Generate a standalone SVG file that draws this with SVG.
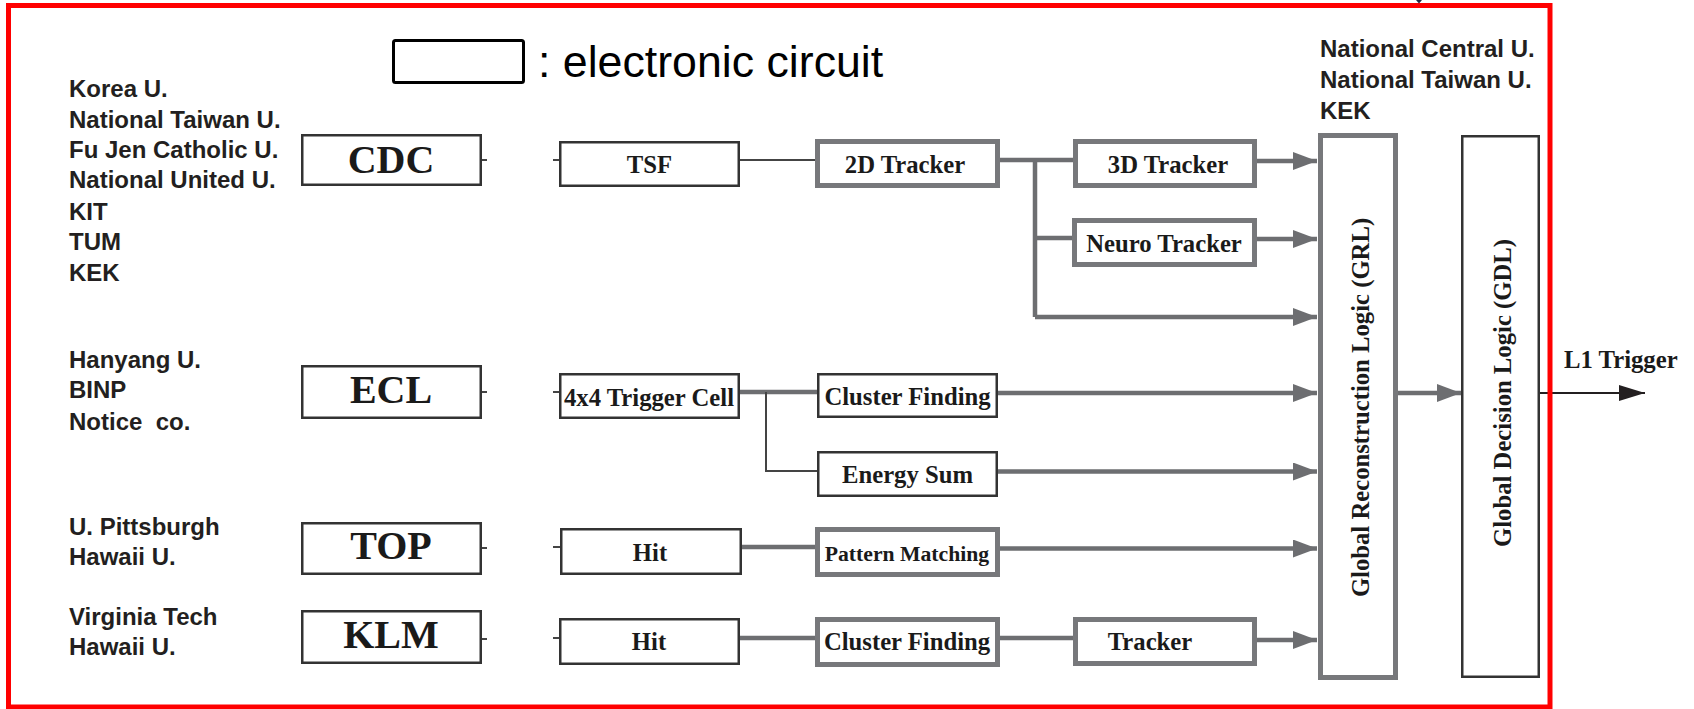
<svg xmlns="http://www.w3.org/2000/svg" width="1694" height="709" viewBox="0 0 1694 709">
<defs>
<style>
.org{font-family:"Liberation Sans",Arial,sans-serif;font-weight:bold;font-size:24px;fill:#231f20}
.big{font-family:"Liberation Serif","Times New Roman",serif;font-weight:bold;font-size:40px;fill:#1a1a1a;text-anchor:middle}
.lbl{font-family:"Liberation Serif","Times New Roman",serif;font-weight:bold;font-size:24.7px;fill:#1a1a1a;text-anchor:middle}
.thin{fill:#fff;stroke:#333;stroke-width:2.5}
.thick{fill:#fff;stroke:#77787b;stroke-width:5}
.wd{fill:none;stroke:#444;stroke-width:2}
.wg{fill:none;stroke:#6d6e71;stroke-width:4.5}
.wga{fill:none;stroke:#6d6e71;stroke-width:4.5;marker-end:url(#ag)}
</style>
<marker id="ag" markerUnits="userSpaceOnUse" markerWidth="24" markerHeight="18" refX="24" refY="9" orient="auto">
<path d="M0,0 L24,9 L0,18 z" fill="#6d6e71"/>
</marker>
<marker id="ab" markerUnits="userSpaceOnUse" markerWidth="26" markerHeight="18" refX="26" refY="9" orient="auto">
<path d="M0,1 L26,9 L0,17 z" fill="#231f20"/>
</marker>
</defs>
<rect width="1694" height="709" fill="#fff"/>

<g id="legend">
<rect x="393.5" y="40.5" width="130" height="42" rx="2" fill="#fff" stroke="#000" stroke-width="3"/>
<text x="538" y="77" font-family="'Liberation Sans',Arial,sans-serif" font-size="44.7" fill="#000">: electronic circuit</text>
</g>

<g id="orgs-cdc">
<text x="69" y="97" class="org">Korea U.</text>
<text x="69" y="128" class="org">National Taiwan U.</text>
<text x="69" y="158" class="org">Fu Jen Catholic U.</text>
<text x="69" y="188" class="org">National United U.</text>
<text x="69" y="220" class="org">KIT</text>
<text x="69" y="250" class="org">TUM</text>
<text x="69" y="281" class="org">KEK</text>
</g>
<g id="orgs-ecl">
<text x="69" y="368" class="org">Hanyang U.</text>
<text x="69" y="398" class="org">BINP</text>
<text x="69" y="430" class="org">Notice&#160; co.</text>
</g>
<g id="orgs-top">
<text x="69" y="535" class="org">U. Pittsburgh</text>
<text x="69" y="565" class="org">Hawaii U.</text>
</g>
<g id="orgs-klm">
<text x="69" y="625" class="org">Virginia Tech</text>
<text x="69" y="655" class="org">Hawaii U.</text>
</g>
<g id="orgs-grl">
<text x="1320" y="57" class="org">National Central U.</text>
<text x="1320" y="88" class="org">National Taiwan U.</text>
<text x="1320" y="119" class="org">KEK</text>
</g>

<g id="connectors">
<path class="wd" d="M482,160 H487 M553,160 H559 M482,392 H487 M553,392 H559 M482,548 H487 M553,547 H560 M482,639 H487 M553,638 H559"/>
<path class="wd" d="M740,160 H816"/>
<path class="wg" d="M1000,160 H1074 M1035,160 V317 M1035,238 H1073"/>
<path class="wga" d="M1035,317 H1317"/>
<path class="wga" d="M1257,161 H1317"/>
<path class="wga" d="M1257,239 H1317"/>
<path class="wg" d="M740,392 H818"/>
<path class="wd" d="M766,392 V471 H818"/>
<path class="wga" d="M998,393 H1317"/>
<path class="wga" d="M998,471.5 H1317"/>
<path class="wg" d="M742,547 H816"/>
<path class="wga" d="M1000,548.5 H1317"/>
<path class="wg" d="M740,638 H816 M1000,638 H1074"/>
<path class="wga" d="M1257,640 H1317"/>
<path class="wga" d="M1398,393 H1461"/>
<path d="M1540,393 H1645" fill="none" stroke="#231f20" stroke-width="2" marker-end="url(#ab)"/>
</g>

<g id="cdc"><rect class="thin" x="302.25" y="135.25" width="178.5" height="49.5"/><text class="big" x="391" y="173">CDC</text></g>
<g id="ecl"><rect class="thin" x="302.25" y="366.25" width="178.5" height="51.5"/><text class="big" x="391" y="403">ECL</text></g>
<g id="top"><rect class="thin" x="302.25" y="523.25" width="178.5" height="50.5"/><text class="big" x="391" y="559">TOP</text></g>
<g id="klm"><rect class="thin" x="302.25" y="611.25" width="178.5" height="51.5"/><text class="big" x="391" y="648">KLM</text></g>

<g id="tsf"><rect class="thin" x="560.25" y="142.25" width="178.5" height="43.5"/><text class="lbl" x="649.5" y="173">TSF</text></g>
<g id="tc4x4"><rect class="thin" x="560.25" y="374.25" width="178.5" height="43.5"/><text class="lbl" x="649" y="406">4x4 Trigger Cell</text></g>
<g id="hit-top"><rect class="thin" x="561.25" y="529.25" width="179.5" height="44.5"/><text class="lbl" x="650" y="561">Hit</text></g>
<g id="hit-klm"><rect class="thin" x="560.25" y="619.25" width="178.5" height="44.5"/><text class="lbl" x="649" y="650">Hit</text></g>

<g id="tracker2d"><rect class="thick" x="817.5" y="141.5" width="180" height="44"/><text class="lbl" x="905" y="173">2D Tracker</text></g>
<g id="cluster-ecl"><rect class="thin" x="818.25" y="374.25" width="178.5" height="42.5"/><text class="lbl" x="907.5" y="405">Cluster Finding</text></g>
<g id="energy-sum"><rect class="thin" x="818.25" y="452.25" width="178.5" height="43.5"/><text class="lbl" x="907.5" y="483">Energy Sum</text></g>
<g id="pattern"><rect class="thick" x="817.5" y="529.5" width="180" height="45"/><text class="lbl" x="907" y="561" style="font-size:21.7px">Pattern Matching</text></g>
<g id="cluster-klm"><rect class="thick" x="817.5" y="619.5" width="180" height="45"/><text class="lbl" x="907" y="650">Cluster Finding</text></g>

<g id="tracker3d"><rect class="thick" x="1075.5" y="141.5" width="179" height="44"/><text class="lbl" x="1168" y="173">3D Tracker</text></g>
<g id="neuro"><rect class="thick" x="1074.5" y="220.5" width="180" height="44"/><text class="lbl" x="1164" y="252">Neuro Tracker</text></g>
<g id="tracker-klm"><rect class="thick" x="1075.5" y="619.5" width="179" height="44"/><text class="lbl" x="1150" y="650">Tracker</text></g>

<g id="grl"><rect class="thick" x="1320.5" y="135.5" width="75" height="542"/><text class="lbl" transform="translate(1369,407.5) rotate(-90)" x="0" y="0">Global Reconstruction Logic (GRL)</text></g>
<g id="gdl"><rect class="thin" x="1462.25" y="136.25" width="76.5" height="540.5"/><text class="lbl" transform="translate(1511,393) rotate(-90)" x="0" y="0">Global Decision Logic (GDL)</text></g>

<g id="l1"><text x="1564" y="368" style="font-family:'Liberation Serif','Times New Roman',serif;font-weight:bold;font-size:24.7px;fill:#1a1a1a">L1 Trigger</text></g>

<g id="frame">
<rect x="8.5" y="5.5" width="1541.5" height="701.5" fill="none" stroke="#ff0000" stroke-width="5"/>
<path d="M1416,0 L1422,0 L1419,3.5 z" fill="#1f2a44"/>
</g>
</svg>
